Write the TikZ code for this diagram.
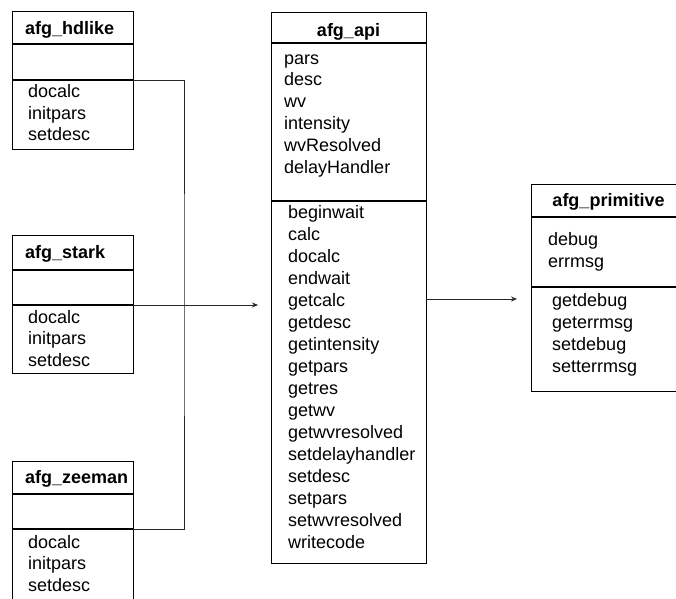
\documentclass[tikz,border=0pt]{standalone}
\usepackage{fontspec}
\setmainfont{Liberation Sans}
\usetikzlibrary{arrows.meta}

\tikzset{
  classbox/.style={draw=black, line width=1.3pt, rectangle, inner sep=0pt, anchor=north west},
  sepline/.style={draw=black, line width=1.3pt},
  titletext/.style={font=\fontsize{18}{22}\selectfont\bfseries, inner sep=0pt},
  itemtext/.style={font=\fontsize{18}{22}\selectfont, inner sep=0pt, anchor=base west},
  conn/.style={draw=black!85, line width=0.9pt},
  arrowconn/.style={conn, -{Stealth[length=6pt,width=5pt]}}
}

% one class member per line, starting at a given baseline
\newcommand{\memberlist}[4]{% x, first baseline, step, list
  \foreach \txt [count=\k from 0] in {#4} {
    \node[itemtext] at (#1, #2+#3*\k) {\txt};
  }%
}

\begin{document}
\begin{tikzpicture}[x=1pt, y=-1pt]
\useasboundingbox (0,0) rectangle (676,598);
\fill[white] (0,0) rectangle (676,598);
\clip (0,0) rectangle (676,598);

% ---- afg_hdlike ----
\node[classbox, minimum width=121pt, minimum height=138pt] (hd) at (12,11) {};
\draw[sepline] (12,44) -- (133,44);
\draw[sepline] (12,80) -- (133,80);
\node[titletext, anchor=base west] (hdtitle) at (25,34) {afg\_hdlike};
\memberlist{28}{97.5}{21.5}{docalc,initpars,setdesc}

% ---- afg_stark ----
\node[classbox, minimum width=121pt, minimum height=138pt] (st) at (12,235) {};
\draw[sepline] (12,270) -- (133,270);
\draw[sepline] (12,305) -- (133,305);
\node[titletext, anchor=base west] (sttitle) at (25,258) {afg\_stark};
\memberlist{28}{323}{21.5}{docalc,initpars,setdesc}

% ---- afg_zeeman ----
\node[classbox, minimum width=121pt, minimum height=180pt] (zm) at (12,461) {};
\draw[sepline] (12,494) -- (133,494);
\draw[sepline] (12,529) -- (133,529);
\node[titletext, anchor=base west] (zmtitle) at (25,483) {afg\_zeeman};
\memberlist{28}{548}{21.5}{docalc,initpars,setdesc}

% ---- afg_api ----
\node[classbox, minimum width=155pt, minimum height=551pt] (api) at (271,12) {};
\draw[sepline] (271,43) -- (426,43);
\draw[sepline] (271,201) -- (426,201);
\node[titletext, anchor=base] (apititle) at (348.5,36) {afg\_api};
\memberlist{284}{64}{21.8}{pars,desc,wv,intensity,wvResolved,delayHandler}
\memberlist{288}{218}{22}{beginwait,calc,docalc,endwait,getcalc,getdesc,getintensity,getpars,getres,getwv,getwvresolved,setdelayhandler,setdesc,setpars,setwvresolved,writecode}

% ---- afg_primitive ----
\node[classbox, minimum width=154pt, minimum height=207pt] (prim) at (531,184) {};
\draw[sepline] (531,217) -- (685,217);
\draw[sepline] (531,287) -- (685,287);
\node[titletext, anchor=base] (primtitle) at (608.5,206) {afg\_primitive};
\memberlist{548}{245}{22}{debug,errmsg}
\memberlist{552}{306}{22}{getdebug,geterrmsg,setdebug,setterrmsg}

% ---- connectors ----
\coordinate (hdport) at (133,80);
\coordinate (stport) at (133,305);
\coordinate (zmport) at (133,529);
\coordinate (bus) at (184,305);
\coordinate (apiin) at (258,305);
\coordinate (apiout) at (426,299);
\coordinate (primin) at (517,299);

\draw[conn] (hdport) -| (bus) |- (zmport);
\draw[arrowconn] (stport) -- (apiin);
\draw[arrowconn] (apiout) -- (primin);
\end{tikzpicture}
\end{document}
